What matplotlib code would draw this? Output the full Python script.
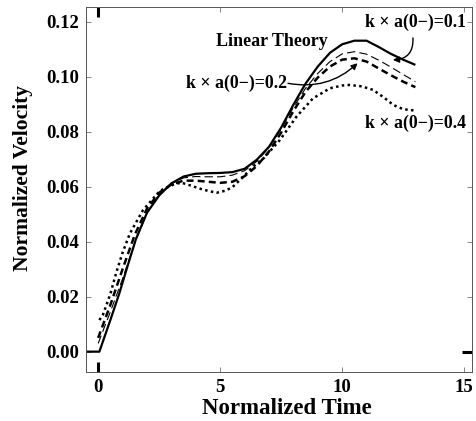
import numpy as np
import matplotlib
matplotlib.use("Agg")
import matplotlib.pyplot as plt

plt.rcParams['font.family'] = ['Liberation Serif', 'DejaVu Serif']
plt.rcParams['font.weight'] = 'bold'
plt.rcParams['lines.scale_dashes'] = False

# Linear theory (solid)
t_lin = [-0.5, 0.05, 0.5, 0.86, 1.2, 1.55, 2.0, 2.5, 3.0, 3.5, 4.0, 4.5, 5.0, 5.5,
         6.0, 6.5, 7.0, 7.5, 8.0, 8.5, 9.0, 9.5, 10.0, 10.5, 11.0, 11.5, 12.0, 12.5, 13.0]
v_lin = [0, 0, 0.0115, 0.021, 0.031, 0.041, 0.0505, 0.0568, 0.0612, 0.0637, 0.0647,
         0.0649, 0.0650, 0.0653, 0.0665, 0.0698, 0.0745, 0.0815, 0.0898, 0.0975, 0.1037,
         0.1087, 0.1118, 0.1131, 0.1131, 0.1108, 0.1083, 0.1062, 0.1043]

# k x a(0-) = 0.1 and 0.2 (thin / thick dashed)
t_ka = [0.0, 0.5, 1.0, 1.5, 2.0, 2.5, 3.0, 3.5, 4.0, 4.5, 5.0, 5.5, 6.0, 6.5, 7.0,
        7.5, 8.0, 8.5, 9.0, 9.5, 10.0, 10.5, 11.0, 11.5, 12.0, 12.5, 13.0]
v_01 = [0.003, 0.0145, 0.0265, 0.0395, 0.0505, 0.0573, 0.0612, 0.0632, 0.0637, 0.0636,
        0.0636, 0.0642, 0.0658, 0.0692, 0.0742, 0.0810, 0.0888, 0.0958, 0.1012, 0.1055,
        0.1083, 0.1091, 0.1082, 0.1060, 0.1035, 0.1008, 0.0982]
v_02 = [0.005, 0.017, 0.030, 0.0425, 0.052, 0.0578, 0.0608, 0.0622, 0.0622, 0.0618,
        0.0614, 0.0618, 0.0638, 0.0675, 0.0728, 0.0797, 0.0875, 0.0945, 0.0997, 0.1037,
        0.1062, 0.1067, 0.1055, 0.1030, 0.1005, 0.0982, 0.0962]

# k x a(0-) = 0.4 (dotted)
t_04 = [0.05, 0.2, 0.5, 0.75, 1.0, 1.3, 1.84, 2.53, 3.07, 3.4, 3.76, 4.2, 4.5, 4.85,
        5.2, 5.5, 5.9, 6.35, 6.8, 7.45, 8.13, 8.8, 9.5, 10.0, 10.3, 10.8, 11.27, 11.7,
        12.1, 12.5, 13.05]
v_04 = [0.0115, 0.0135, 0.021, 0.029, 0.036, 0.043, 0.0515, 0.0585, 0.0607, 0.0615,
        0.0605, 0.0592, 0.0585, 0.0578, 0.0585, 0.0598, 0.0632, 0.0673, 0.0705, 0.0770,
        0.0855, 0.0921, 0.0958, 0.0968, 0.0970, 0.0965, 0.0952, 0.0925, 0.0897, 0.0882,
        0.0876]

xticks = [0, 5, 10, 15]
yticks = [0.00, 0.02, 0.04, 0.06, 0.08, 0.10, 0.12]

fig = plt.figure(figsize=(4.77, 4.21), dpi=100)
ax = fig.add_axes([0.180, 0.1164, 0.8095, 0.8666])

ax.plot(t_lin, v_lin, color='black', lw=1.6, solid_capstyle='butt')
ax.plot(t_ka, v_01, color='black', lw=0.8, dashes=(6, 3))
ax.plot(t_ka, v_02, color='black', lw=1.8, dashes=(5, 3))
ax.plot(t_04, v_04, color='black', lw=1.8, dashes=(1.8, 2.4))

ax.set_xlim(-0.504, 15.32)
ax.set_ylim(-0.0074, 0.1253)
ax.set_xticks(xticks)
ax.set_yticks(yticks)
ax.set_xticklabels([str(x) for x in xticks])
ax.set_yticklabels(['%.2f' % y for y in yticks])
ax.tick_params(direction='in', length=3.6, width=0.5, color='#555555',
               top=True, right=True, labelsize=13.5, pad=5)
for s in ax.spines.values():
    s.set_linewidth(0.7)
    s.set_color('#555555')

# heavy origin marks of the original plot
xt0 = ax.xaxis.get_major_ticks()[0]
for ln in (xt0.tick1line, xt0.tick2line):
    ln.set_markersize(7)
    ln.set_markeredgewidth(2.2)
    ln.set_markeredgecolor('black')
yt0 = ax.yaxis.get_major_ticks()[0]
yt0.tick2line.set_markersize(7.5)
yt0.tick2line.set_markeredgewidth(2.2)
yt0.tick2line.set_markeredgecolor('black')

ax.set_xlabel('Normalized Time', fontsize=16.5, fontweight='bold')
ax.set_ylabel('Normalized Velocity', fontsize=15.5, fontweight='bold')
ax.xaxis.set_label_coords(0.52, -0.071)
ax.yaxis.set_label_coords(-0.137, 0.531)

ax.text(7.1, 0.1127, 'Linear Theory', fontsize=13, ha='center', va='center')
ax.text(13.01, 0.1198, 'k \u00d7 a(0\u2212)=0.1', fontsize=12.8, ha='center', va='center')
ax.text(13.01, 0.0832, 'k \u00d7 a(0\u2212)=0.4', fontsize=12.8, ha='center', va='center')
ax.text(5.67, 0.0976, 'k \u00d7 a(0\u2212)=0.2', fontsize=12.8, ha='center', va='center')

ax.annotate('', xy=(12.08, 0.1061), xytext=(12.9, 0.1141),
            arrowprops=dict(arrowstyle='-|>', color='black', lw=1.0,
                            mutation_scale=9, shrinkA=0, shrinkB=0,
                            connectionstyle='arc3,rad=-0.5'))
ax.annotate('', xy=(10.63, 0.1049), xytext=(7.78, 0.0976),
            arrowprops=dict(arrowstyle='-|>', color='black', lw=1.0,
                            mutation_scale=9, shrinkA=0, shrinkB=0,
                            connectionstyle='arc3,rad=0.25'))

fig.savefig('out.png', dpi=100)
